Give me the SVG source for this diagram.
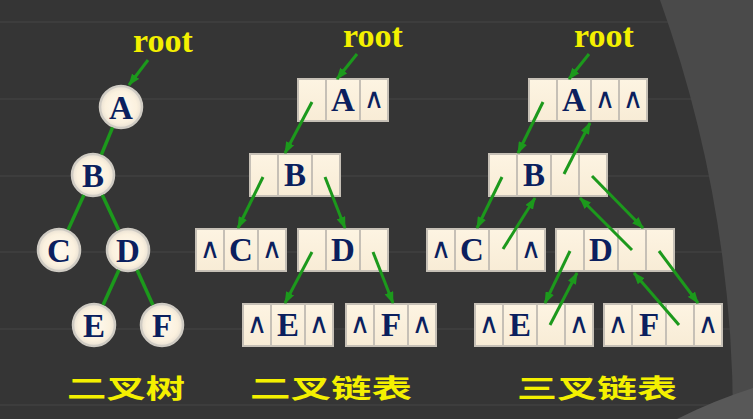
<svg xmlns="http://www.w3.org/2000/svg" width="753" height="419" viewBox="0 0 753 419">
<style>
.bgline{stroke:#474747;stroke-width:1}
.edge{stroke:#1c991c;stroke-width:3.5;fill:none}
.arr{stroke:#1c991c;stroke-width:3;fill:none;marker-end:url(#ah)}
.circ{fill:url(#cg);stroke:#cfcbc3;stroke-width:2.5}
.box{fill:#c6c0b6}
.cell{fill:url(#cellg)}
.let{font-family:"Liberation Serif","Times New Roman",serif;font-weight:bold;font-size:33px;fill:#0b1f5e;text-anchor:middle}
.nil{font-family:"DejaVu Sans",sans-serif;font-size:28px;fill:#0b1f5e;text-anchor:middle}
.root{font-family:"Liberation Serif","Times New Roman",serif;font-weight:bold;font-size:34px;fill:#f4f000}
.title{font-family:"Noto Sans CJK SC","Noto Sans CJK JP",sans-serif;font-weight:bold;font-size:26px;fill:#f4f000}
</style>
<defs>
<radialGradient id="cg" cx="0.5" cy="0.5" r="0.5">
<stop offset="0" stop-color="#fffaf0"/>
<stop offset="0.75" stop-color="#fbf1de"/>
<stop offset="1" stop-color="#e9e1d4"/>
</radialGradient>
<linearGradient id="cellg" x1="0" y1="0" x2="0" y2="1">
<stop offset="0" stop-color="#fdf4e2"/>
<stop offset="1" stop-color="#f8ecd6"/>
</linearGradient>
<marker id="ah" markerUnits="userSpaceOnUse" markerWidth="12" markerHeight="9" refX="11" refY="4.5" orient="auto">
<path d="M0,0 L12,4.5 L0,9 Z" fill="#1c991c"/>
</marker>
</defs>
<rect x="0" y="0" width="753" height="419" fill="#353535"/>
<g id="background">
<line class="bgline" x1="0" y1="22" x2="753" y2="22"/>
<line class="bgline" x1="0" y1="99" x2="753" y2="99"/>
<line class="bgline" x1="0" y1="176" x2="753" y2="176"/>
<line class="bgline" x1="0" y1="252" x2="753" y2="252"/>
<line class="bgline" x1="0" y1="329" x2="753" y2="329"/>
<line class="bgline" x1="0" y1="405" x2="753" y2="405"/>
<path d="M660,0 A1245,1245 0 0 1 733,419 L753,419 L753,0 Z" fill="#4a4a4a"/>
<path d="M677,419 Q715,400 753,388 L753,419 Z" fill="#585858"/>
</g>
<g id="labels">
<text class="root" x="133" y="52">root</text>
<text class="root" x="343" y="47">root</text>
<text class="root" x="574" y="47">root</text>
<text class="title" x="67" y="398" textLength="118" lengthAdjust="spacingAndGlyphs">二叉树</text>
<text class="title" x="250" y="398" textLength="162" lengthAdjust="spacingAndGlyphs">二叉链表</text>
<text class="title" x="517" y="398" textLength="160" lengthAdjust="spacingAndGlyphs">三叉链表</text>
</g>
<g id="tree-A"><circle class="circ" cx="121" cy="107" r="21"/><text class="let" x="121" y="119">A</text></g>
<g id="tree-B"><circle class="circ" cx="93" cy="175" r="21"/><text class="let" x="93" y="187">B</text></g>
<g id="tree-C"><circle class="circ" cx="59" cy="250" r="21"/><text class="let" x="59" y="262">C</text></g>
<g id="tree-D"><circle class="circ" cx="128" cy="250" r="21"/><text class="let" x="128" y="262">D</text></g>
<g id="tree-E"><circle class="circ" cx="94" cy="325" r="21"/><text class="let" x="94" y="337">E</text></g>
<g id="tree-F"><circle class="circ" cx="162" cy="325" r="21"/><text class="let" x="162" y="337">F</text></g>

<g id="bin-A"><rect class="box" x="297" y="78" width="92" height="44"/>
<rect class="cell" x="299" y="80" width="26" height="40"/><rect class="cell" x="327" y="80" width="32" height="40"/><rect class="cell" x="361" y="80" width="26" height="40"/>
<text class="let" x="343" y="111">A</text><text class="nil" x="374" y="108">∧</text></g>
<g id="bin-B"><rect class="box" x="249" y="153" width="92" height="44"/>
<rect class="cell" x="251" y="155" width="26" height="40"/><rect class="cell" x="279" y="155" width="32" height="40"/><rect class="cell" x="313" y="155" width="26" height="40"/>
<text class="let" x="295" y="186">B</text></g>
<g id="bin-C"><rect class="box" x="195" y="228" width="92" height="44"/>
<rect class="cell" x="197" y="230" width="26" height="40"/><rect class="cell" x="225" y="230" width="32" height="40"/><rect class="cell" x="259" y="230" width="26" height="40"/>
<text class="nil" x="210" y="258">∧</text><text class="let" x="241" y="261">C</text><text class="nil" x="272" y="258">∧</text></g>
<g id="bin-D"><rect class="box" x="297" y="228" width="92" height="44"/>
<rect class="cell" x="299" y="230" width="26" height="40"/><rect class="cell" x="327" y="230" width="32" height="40"/><rect class="cell" x="361" y="230" width="26" height="40"/>
<text class="let" x="343" y="261">D</text></g>
<g id="bin-E"><rect class="box" x="242" y="303" width="92" height="44"/>
<rect class="cell" x="244" y="305" width="26" height="40"/><rect class="cell" x="272" y="305" width="32" height="40"/><rect class="cell" x="306" y="305" width="26" height="40"/>
<text class="nil" x="257" y="333">∧</text><text class="let" x="288" y="336">E</text><text class="nil" x="319" y="333">∧</text></g>
<g id="bin-F"><rect class="box" x="345" y="303" width="92" height="44"/>
<rect class="cell" x="347" y="305" width="26" height="40"/><rect class="cell" x="375" y="305" width="32" height="40"/><rect class="cell" x="409" y="305" width="26" height="40"/>
<text class="nil" x="360" y="333">∧</text><text class="let" x="391" y="336">F</text><text class="nil" x="422" y="333">∧</text></g>

<g id="tri-A"><rect class="box" x="528" y="78" width="120" height="44"/>
<rect class="cell" x="530" y="80" width="26" height="40"/><rect class="cell" x="558" y="80" width="32" height="40"/><rect class="cell" x="592" y="80" width="26" height="40"/><rect class="cell" x="620" y="80" width="26" height="40"/>
<text class="let" x="574" y="111">A</text><text class="nil" x="605" y="108">∧</text><text class="nil" x="633" y="108">∧</text></g>
<g id="tri-B"><rect class="box" x="488" y="153" width="120" height="44"/>
<rect class="cell" x="490" y="155" width="26" height="40"/><rect class="cell" x="518" y="155" width="32" height="40"/><rect class="cell" x="552" y="155" width="26" height="40"/><rect class="cell" x="580" y="155" width="26" height="40"/>
<text class="let" x="534" y="186">B</text></g>
<g id="tri-C"><rect class="box" x="426" y="228" width="120" height="44"/>
<rect class="cell" x="428" y="230" width="26" height="40"/><rect class="cell" x="456" y="230" width="32" height="40"/><rect class="cell" x="490" y="230" width="26" height="40"/><rect class="cell" x="518" y="230" width="26" height="40"/>
<text class="nil" x="441" y="258">∧</text><text class="let" x="472" y="261">C</text><text class="nil" x="531" y="258">∧</text></g>
<g id="tri-D"><rect class="box" x="555" y="228" width="120" height="44"/>
<rect class="cell" x="557" y="230" width="26" height="40"/><rect class="cell" x="585" y="230" width="32" height="40"/><rect class="cell" x="619" y="230" width="26" height="40"/><rect class="cell" x="647" y="230" width="26" height="40"/>
<text class="let" x="601" y="261">D</text></g>
<g id="tri-E"><rect class="box" x="474" y="303" width="120" height="44"/>
<rect class="cell" x="476" y="305" width="26" height="40"/><rect class="cell" x="504" y="305" width="32" height="40"/><rect class="cell" x="538" y="305" width="26" height="40"/><rect class="cell" x="566" y="305" width="26" height="40"/>
<text class="nil" x="489" y="333">∧</text><text class="let" x="520" y="336">E</text><text class="nil" x="579" y="333">∧</text></g>
<g id="tri-F"><rect class="box" x="603" y="303" width="120" height="44"/>
<rect class="cell" x="605" y="305" width="26" height="40"/><rect class="cell" x="633" y="305" width="32" height="40"/><rect class="cell" x="667" y="305" width="26" height="40"/><rect class="cell" x="695" y="305" width="26" height="40"/>
<text class="nil" x="618" y="333">∧</text><text class="let" x="649" y="336">F</text><text class="nil" x="708" y="333">∧</text></g>

<g id="connectors">
<line class="edge" x1="112.6" y1="127.4" x2="101.4" y2="154.6"/>
<line class="edge" x1="83.9" y1="195" x2="68.1" y2="229.9"/>
<line class="edge" x1="102.3" y1="194.9" x2="118.7" y2="230.1"/>
<line class="edge" x1="118.9" y1="270" x2="103.1" y2="305"/>
<line class="edge" x1="137.1" y1="270" x2="152.9" y2="305"/>
<line class="arr" x1="148" y1="60" x2="129" y2="85"/>
<line class="arr" x1="357" y1="54" x2="337" y2="79"/>
<line class="arr" x1="312" y1="102" x2="285" y2="153"/>
<line class="arr" x1="263" y1="177" x2="238" y2="228"/>
<line class="arr" x1="325" y1="177" x2="345" y2="228"/>
<line class="arr" x1="312" y1="252" x2="285" y2="303"/>
<line class="arr" x1="373" y1="252" x2="393" y2="303"/>
<line class="arr" x1="589" y1="54" x2="569" y2="79"/>
<line class="arr" x1="543" y1="102" x2="518" y2="153"/>
<line class="arr" x1="564" y1="174" x2="590" y2="123"/>
<line class="arr" x1="502" y1="177" x2="477" y2="228"/>
<line class="arr" x1="503" y1="249" x2="535" y2="198"/>
<line class="arr" x1="592" y1="176" x2="643" y2="228"/>
<line class="arr" x1="632" y1="250" x2="580" y2="198"/>
<line class="arr" x1="570" y1="251" x2="545" y2="303"/>
<line class="arr" x1="550" y1="325" x2="577" y2="273"/>
<line class="arr" x1="659" y1="251" x2="698" y2="303"/>
<line class="arr" x1="679" y1="325" x2="634" y2="273"/>
</g>
</svg>
